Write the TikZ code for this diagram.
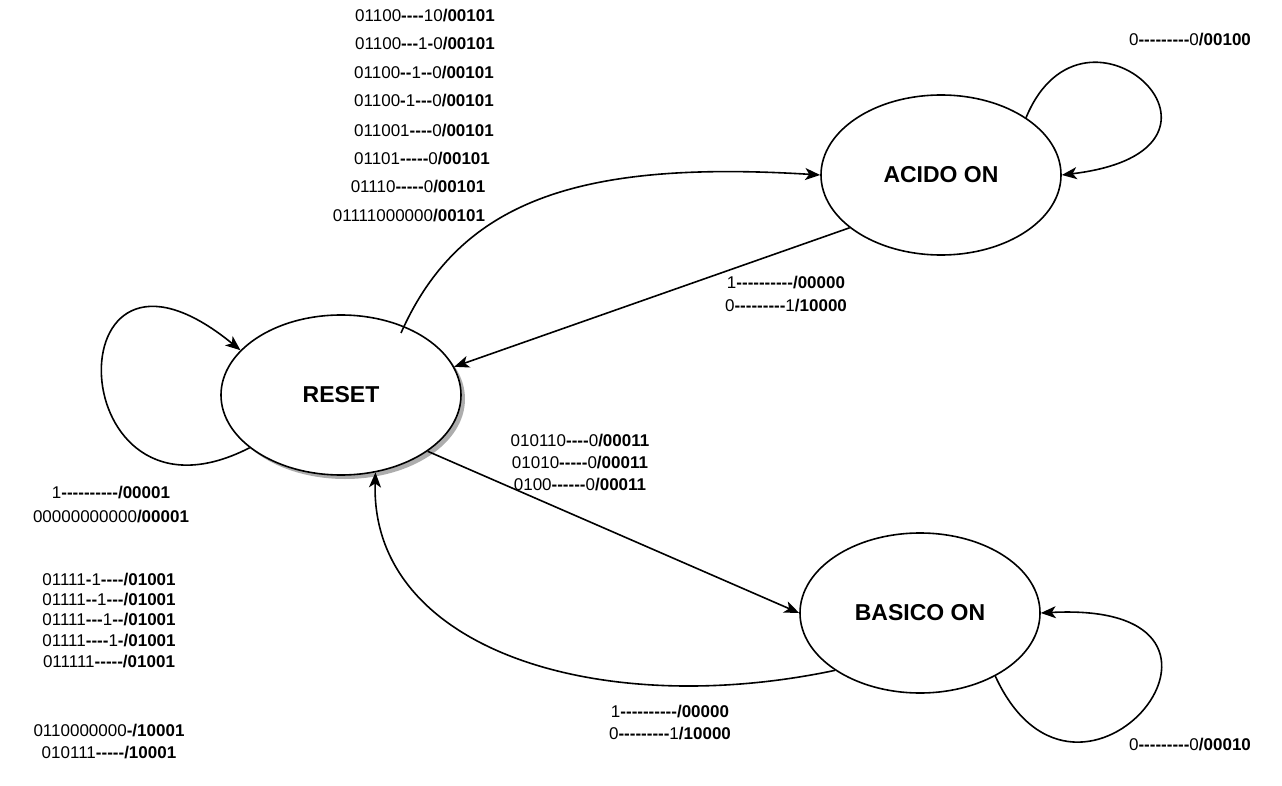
\documentclass[tikz,border=0pt]{standalone}
\usepackage{fontspec}
\setmainfont{Liberation Sans}[Ligatures=TeXOff]
\usetikzlibrary{arrows.meta, shapes.geometric, shadows}

\newcommand{\dsh}[1]{\textbf{#1}}
\newcommand{\outv}[1]{\textbf{/#1}}

\begin{document}
\begin{tikzpicture}[x=1pt, y=-1pt, >={Stealth[length=15pt, width=12pt, inset=4pt]}, line width=1.6pt,
    stnode/.style={ellipse, draw, fill=white, minimum width=240pt, minimum height=160pt,
      inner sep=0pt, font=\fontsize{23}{28}\selectfont\bfseries},
    lbl/.style={inner sep=0pt, font=\fontsize{17}{20}\selectfont},
    trans/.style={->}]
  \useasboundingbox (0,0) rectangle (1282,786);

  % states
  \node[stnode, drop shadow={shadow xshift=4pt, shadow yshift=-4pt, fill=black!40, opacity=0.8}] (reset) at (341,395) {RESET};
  \node[stnode] (acido) at (941,175) {ACIDO ON};
  \node[stnode] (basico) at (920,613) {BASICO ON};
  \coordinate (reset-out) at (401,333);

  % transitions
  \draw[trans] (reset-out) .. controls (460,200) and (580,160) .. (acido.west);
  \draw[trans] (acido.-150) -- (reset.14);
  \draw[trans] (reset.-150) .. controls (60,545) and (50,195) .. (reset.156);
  \draw[trans] (acido.34) .. controls (1085,-25) and (1270,150) .. (acido.east);
  \draw[trans] (reset.-33) -- (basico.west);
  \draw[trans] (basico.-146) .. controls (600,720) and (370,650) .. (reset.-66);
  \draw[trans] (basico.-40) .. controls (1080,860) and (1290,600) .. (basico.east);

  % labels reset -> acido
  \foreach \x/\y/\txt [count=\i] in {
      425/16/{01100\dsh{----}10\outv{00101}},
      425/44/{01100\dsh{---}1\dsh{-}0\outv{00101}},
      424/73/{01100\dsh{--}1\dsh{--}0\outv{00101}},
      424/101/{01100\dsh{-}1\dsh{---}0\outv{00101}},
      424/131/{011001\dsh{----}0\outv{00101}},
      422/159/{01101\dsh{-----}0\outv{00101}},
      418/187/{01110\dsh{-----}0\outv{00101}},
      409/216/{01111000000\outv{00101}}} {
    \node[lbl] (ra\i) at (\x,\y) {\txt};
  }

  % labels acido -> reset
  \node[lbl] (ar1) at (786,283) {1\dsh{----------}\outv{00000}};
  \node[lbl] (ar2) at (786,306) {0\dsh{---------}1\outv{10000}};

  % acido loop
  \node[lbl] (aa1) at (1190,40) {0\dsh{---------}0\outv{00100}};

  % reset loop
  \node[lbl] (rr1) at (111,493) {1\dsh{----------}\outv{00001}};
  \node[lbl] (rr2) at (111,517) {00000000000\outv{00001}};

  % reset -> basico
  \foreach \y/\txt [count=\i] in {
      441/{010110\dsh{----}0\outv{00011}},
      463/{01010\dsh{-----}0\outv{00011}},
      485/{0100\dsh{------}0\outv{00011}}} {
    \node[lbl] (rb\i) at (580,\y) {\txt};
  }

  % basico -> reset
  \foreach \y/\txt [count=\i] in {
      580/{01111\dsh{-}1\dsh{----}\outv{01001}},
      600/{01111\dsh{--}1\dsh{---}\outv{01001}},
      620/{01111\dsh{---}1\dsh{--}\outv{01001}},
      641/{01111\dsh{----}1\dsh{-}\outv{01001}},
      662/{011111\dsh{-----}\outv{01001}},
      731/{0110000000\dsh{-}\outv{10001}},
      753/{010111\dsh{-----}\outv{10001}}} {
    \node[lbl] (br\i) at (109,\y) {\txt};
  }
  \node[lbl] (bx1) at (670,712) {1\dsh{----------}\outv{00000}};
  \node[lbl] (bx2) at (670,734) {0\dsh{---------}1\outv{10000}};

  % basico loop
  \node[lbl] (bb1) at (1190,745) {0\dsh{---------}0\outv{00010}};
\end{tikzpicture}
\end{document}
